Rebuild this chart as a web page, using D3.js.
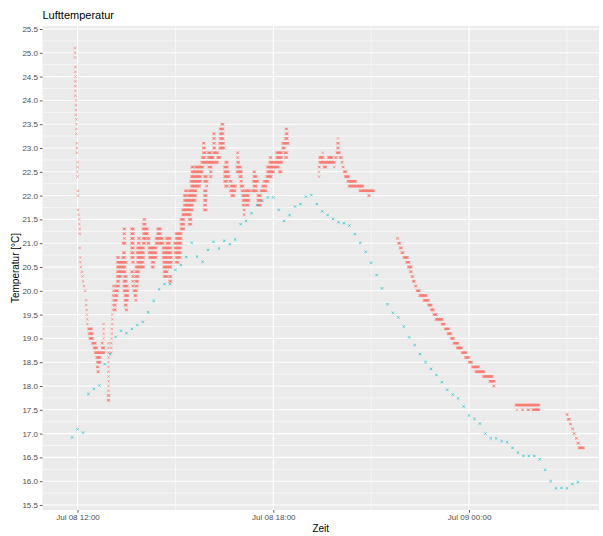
<!DOCTYPE html>
<html><head><meta charset="utf-8">
<script src="https://cdn.jsdelivr.net/npm/d3@7"></script>
<style>body{margin:0;background:#fff}svg{display:block;font-family:"Liberation Sans",Arial,sans-serif}</style>
</head><body><svg id="c" width="603" height="536"></svg>
<script>
const titleText = "Lufttemperatur";
const xTitleText = "Zeit";
const yTitleText = "Temperatur [°C]";
const yTicks = [15.5,16.0,16.5,17.0,17.5,18.0,18.5,19.0,19.5,20.0,20.5,21.0,21.5,22.0,22.5,23.0,23.5,24.0,24.5,25.0,25.5];
// minutes relative to Jul 08 12:00
const xMajorMinutes = [0, 360, 720];
const xMinorMinutes = [180, 540, 900];

const cyanMinutes = [-10,0,10,20,30,40,50,60,70,80,90,100,110,120,130,140,150,160,170,180,190,200,210,220,230,240,250,260,270,280,290,300,310,320,330,340,350,360,370,380,390,400,410,420,430,440,450,460,470,480,490,500,510,520,530,540,550,560,570,580,590,600,610,620,630,640,650,660,670,680,690,700,710,720,730,740,750,760,770,780,790,800,810,820,830,840,850,860,870,880,890,900,910,920];
const cyanValues = [16.92,17.09,17.02,17.83,17.94,18.01,18.46,18.67,19.03,19.16,19.11,19.20,19.28,19.35,19.55,19.79,20.03,20.14,20.14,20.44,20.54,20.71,21.01,20.72,20.61,20.86,21.03,20.89,21.05,20.98,21.08,21.40,21.47,21.63,21.80,21.89,21.96,21.96,21.70,21.47,21.59,21.77,21.82,21.98,22.01,21.82,21.67,21.59,21.51,21.44,21.42,21.37,21.19,21.01,20.82,20.59,20.33,20.05,19.72,19.54,19.44,19.25,19.02,18.86,18.67,18.50,18.36,18.23,18.08,17.92,17.82,17.74,17.57,17.38,17.31,17.21,17.00,16.90,16.90,16.84,16.82,16.70,16.60,16.53,16.53,16.53,16.46,16.24,16.00,15.85,15.86,15.85,15.94,15.98];

// red sensor: runs of identical readings [value, first minute, last minute] (one reading per minute)
const redRuns = [
[25.1,-5,-5],[25.0,-5,-5],[24.9,-5,-5],
[24.7,-4,-4],[24.6,-4,-4],[24.5,-4,-4],[24.4,-4,-4],[24.3,-4,-4],[24.2,-4,-4],[24.1,-4,-4],
[24.0,-3,-3],[23.9,-3,-3],[23.8,-3,-3],[23.7,-3,-3],
[23.6,-2,-2],[23.5,-2,-2],[23.4,-2,-2],[23.3,-2,-2],
[23.1,-1,-1],[23.0,-1,-1],[22.9,-1,-1],
[22.7,0,0],[22.6,0,0],[22.5,0,0],[22.4,0,0],
[22.1,1,1],[22.0,1,1],[21.7,1,1],[21.6,2,2],[21.5,3,3],[21.4,3,3],[21.3,4,4],[21.2,4,4],
[20.9,4,4],[20.7,5,5],[20.6,5,5],[20.5,6,6],[20.4,8,8],[20.3,9,9],[20.2,10,10],[20.1,12,12],[20.0,14,14],
[19.8,16,16],[19.7,16,16],[19.6,17,17],[19.5,17,17],[19.4,18,18],[19.3,18,18],
[19.2,20,26],[19.1,21,28],[19.0,22,28],
[18.9,27,33],[18.9,45,46],[18.8,30,36],[18.8,45,49],
[18.7,32,42],[18.7,44,49],[18.6,35,42],[18.5,36,42],[18.4,36,38],[18.3,37,39],
[19.3,48,48],[19.2,48,48],[19.1,48,48],[19.0,48,48],
[18.9,57,57],[18.8,57,57],[18.7,57,57],[18.6,57,57],[18.5,57,57],[18.4,57,57],[18.3,57,57],[18.2,57,57],[18.1,57,57],[18.0,57,57],[17.9,57,57],[17.8,56,58],[17.7,56,58],
[18.7,62,62],[18.8,62,62],[18.9,62,62],[19.0,63,63],[19.1,63,63],[19.2,63,63],[19.3,64,64],[19.4,64,64],[19.5,64,64],[19.6,65,65],[19.7,65,65],[19.8,65,65],[19.9,65,66],[20.0,66,67],[20.1,66,67],
[21.3,85,87],[21.3,99,103],[21.2,85,87],[21.2,99,103],[21.1,86,87],[21.1,99,103],
[21.0,83,88],[21.0,99,103],[20.9,99,103],[20.8,84,87],[20.8,99,103],
[20.7,73,76],[20.7,83,87],[20.7,99,103],[20.6,73,90],[20.6,101,103],[20.5,73,88],
[20.4,73,88],[20.4,99,102],[20.3,73,80],[20.3,86,90],[20.3,101,103],
[20.2,73,76],[20.2,85,90],[20.2,101,102],[20.1,71,76],[20.1,85,92],[20.1,101,103],
[20.0,70,74],[20.0,85,93],[20.0,103,105],[19.9,69,73],[19.9,87,93],[19.9,105,106],
[19.8,68,72],[19.8,87,92],[19.7,68,70],[19.7,87,90],[19.6,68,70],[19.6,89,91],
[21.5,122,124],[21.5,190,196],[21.5,205,209],
[21.4,121,125],[21.4,190,196],[21.4,205,209],
[21.3,120,129],[21.3,147,153],[21.3,190,196],
[21.2,121,129],[21.2,147,153],[21.2,181,191],
[21.1,112,114],[21.1,120,125],[21.1,128,132],[21.1,144,157],[21.1,163,171],[21.1,181,191],
[21.0,111,114],[21.0,120,124],[21.0,129,132],[21.0,144,149],[21.0,151,158],[21.0,164,170],[21.0,178,191],
[20.9,110,122],[20.9,131,145],[20.9,157,172],[20.9,179,190],
[20.8,109,122],[20.8,131,145],[20.8,157,173],[20.8,179,190],
[20.7,110,122],[20.7,132,145],[20.7,157,166],[20.7,168,173],[20.7,181,189],
[20.6,110,121],[20.6,137,141],[20.6,158,173],[20.6,181,185],
[20.5,107,122],[20.5,137,140],[20.5,158,172],
[20.4,107,113],[20.4,159,165],[20.3,107,112],[20.3,159,165],[20.3,169,172],
[20.2,107,111],[20.2,169,172],[20.1,107,110],[20.0,107,109],[19.9,107,108],[19.8,107,108],
[23.1,231,233],[23.0,231,234],[22.9,231,235],[22.9,240,245],[22.8,229,234],[22.8,240,247],
[22.7,228,246],[22.6,210,213],[22.6,217,231],[22.6,241,243],[22.5,210,230],
[22.4,209,227],[22.4,233,238],[22.3,208,227],[22.3,233,239],[22.2,209,225],[22.2,237,238],
[22.1,198,201],[22.1,205,218],[22.1,233,237],[22.0,196,200],[22.0,203,218],[22.0,233,237],
[21.9,196,217],[21.9,233,237],[21.8,196,212],[21.8,233,236],[21.7,193,211],[21.7,233,237],[21.6,193,208],
[23.5,265,268],[23.4,262,268],[23.3,250,252],[23.3,262,268],[23.2,250,252],[23.2,262,268],
[23.1,250,252],[23.1,261,269],[23.0,250,253],[23.0,261,270],
[22.9,250,258],[22.9,294,295],[22.8,247,250],[22.8,257,262],[22.8,294,295],
[22.7,247,258],[22.7,272,276],[22.7,294,297],[22.6,244,246],[22.6,270,276],[22.6,293,300],
[22.5,244,246],[22.5,270,278],[22.5,293,302],[22.4,244,246],[22.4,270,279],[22.4,298,302],
[22.3,270,275],[22.3,280,283],[22.3,300,302],[22.2,272,276],[22.2,282,291],[22.2,300,305],
[22.1,281,290],[22.1,302,305],[22.1,308,317],[22.0,283,288],[22.0,303,308],[22.0,310,315],
[21.9,304,316],[21.8,304,306],[21.8,310,314],[21.7,306,307],[21.6,306,307],
[22.5,324,326],[22.5,349,361],[22.5,371,375],[22.4,324,329],[22.4,348,357],
[22.3,323,332],[22.3,343,351],[22.2,324,329],[22.2,340,347],[22.1,321,330],[22.1,337,347],
[22.0,331,337],[21.9,331,338],[21.8,332,337],[22.6,349,370],
[22.7,353,362],[22.7,364,376],[22.8,354,356],[22.8,366,376],[22.8,382,385],
[22.9,366,376],[22.9,381,385],[23.0,377,381],[23.1,377,388],[23.2,382,386],[23.3,383,386],[23.4,383,385],
[23.2,479,479],[23.1,478,480],[23.0,478,480],[22.9,451,451],[22.9,477,482],
[22.8,445,452],[22.8,461,469],[22.8,474,476],[22.8,483,486],
[22.7,445,473],[22.7,486,487],[22.6,444,445],[22.6,453,457],[22.6,472,472],[22.6,488,489],
[22.5,444,444],[22.5,490,494],[22.4,444,444],[22.4,492,499],
[22.3,497,512],[22.2,499,525],[22.1,519,545],[22.0,535,537],
[21.1,588,589],[21.0,590,593],[20.9,593,596],[20.8,596,599],[20.7,600,607],[20.6,605,610],
[20.5,608,614],[20.4,612,614],[20.3,615,617],[20.2,617,620],[20.1,621,623],[20.0,624,629],
[19.9,629,642],[19.8,637,646],[19.7,645,651],[19.6,650,655],[19.5,655,660],[19.4,659,671],
[19.3,670,675],[19.2,676,683],[19.1,681,687],[19.0,687,692],[18.9,692,700],[18.8,698,707],
[18.7,707,715],[18.6,713,720],[18.5,720,725],[18.4,726,738],[18.3,732,748],[18.2,746,763],
[18.1,758,767],[18.0,765,766],
[17.6,806,849],[17.5,808,808],[17.5,818,819],[17.5,828,830],[17.5,837,849],
[17.4,900,901],[17.3,902,905],[17.2,906,907],[17.1,910,911],[17.0,913,914],[16.9,917,918],[16.8,920,922],[16.7,922,931]
];

const base = new Date(2021, 6, 8, 12, 0, 0);
const at = m => new Date(base.getTime() + m * 60000);

const L = 42.5, R = 599, T = 26, B = 510;
const svg = d3.select("#c");
const x = d3.scaleTime().domain([at(-64.4), at(959)]).range([L, R]);
const y = d3.scaleLinear().domain([15.395, 25.563]).range([B, T]);

svg.append("rect").attr("width", 603).attr("height", 536).attr("fill", "#fff");
svg.append("rect").attr("x", L).attr("y", T).attr("width", R - L).attr("height", B - T).attr("fill", "#EBEBEB");

const yMinor = yTicks.slice(1).map((v, i) => (v + yTicks[i]) / 2);
const grid = svg.append("g");
grid.selectAll(".ym").data(yMinor).enter().append("line")
  .attr("x1", L).attr("x2", R).attr("y1", d => y(d)).attr("y2", d => y(d))
  .attr("stroke", "#fff").attr("stroke-width", 0.55);
grid.selectAll(".xm").data(xMinorMinutes).enter().append("line")
  .attr("y1", T).attr("y2", B).attr("x1", d => x(at(d))).attr("x2", d => x(at(d)))
  .attr("stroke", "#fff").attr("stroke-width", 0.55);
grid.selectAll(".yM").data(yTicks).enter().append("line")
  .attr("x1", L).attr("x2", R).attr("y1", d => y(d)).attr("y2", d => y(d))
  .attr("stroke", "#fff").attr("stroke-width", 1.1);
grid.selectAll(".xM").data(xMajorMinutes).enter().append("line")
  .attr("y1", T).attr("y2", B).attr("x1", d => x(at(d))).attr("x2", d => x(at(d)))
  .attr("stroke", "#fff").attr("stroke-width", 1.1);

const cross = "M-1.2,-1.2L1.2,1.2M-1.2,1.2L1.2,-1.2";
const redPts = [];
redRuns.forEach(([v, s, e]) => { for (let m = s; m <= e; m++) redPts.push([m, v]); });
svg.append("g").selectAll("path").data(redPts).enter().append("path")
  .attr("d", cross)
  .attr("transform", d => `translate(${x(at(d[0]))},${y(d[1])})`)
  .attr("fill", "none").attr("stroke", "#F8766D").attr("stroke-width", 0.85).attr("stroke-opacity", 0.7);

const cyanPts = cyanMinutes.map((m, i) => [m, cyanValues[i]]);
svg.append("g").selectAll("path").data(cyanPts).enter().append("path")
  .attr("d", cross)
  .attr("transform", d => `translate(${x(at(d[0]))},${y(d[1])})`)
  .attr("fill", "none").attr("stroke", "#00BFC4").attr("stroke-width", 0.9).attr("stroke-opacity", 0.7);

const yAxis = svg.append("g").attr("transform", `translate(${L},0)`)
  .call(d3.axisLeft(y).tickValues(yTicks).tickFormat(d3.format(".1f")).tickSize(2.7).tickPadding(1.8));
const xAxis = svg.append("g").attr("transform", `translate(0,${B})`)
  .call(d3.axisBottom(x).tickValues(xMajorMinutes.map(at)).tickFormat(d3.timeFormat("%b %d %H:%M")).tickSize(2.7).tickPadding(2));
[yAxis, xAxis].forEach(a => {
  a.select(".domain").remove();
  a.selectAll(".tick line").attr("stroke", "#333").attr("stroke-width", 0.8);
  a.selectAll(".tick text").attr("fill", "#4D4D4D").attr("font-size", "8px").attr("font-family", "Liberation Sans, Arial, sans-serif");
});

svg.append("text").attr("x", L).attr("y", 19).attr("font-size", "11px").attr("fill", "#000").text(titleText);
svg.append("text").attr("x", (L + R) / 2).attr("y", 532).attr("text-anchor", "middle").attr("font-size", "10px").attr("fill", "#000").text(xTitleText);
svg.append("text").attr("transform", `translate(19,${(T + B) / 2}) rotate(-90)`).attr("text-anchor", "middle").attr("font-size", "10px").attr("fill", "#000").text(yTitleText);
</script></body></html>
